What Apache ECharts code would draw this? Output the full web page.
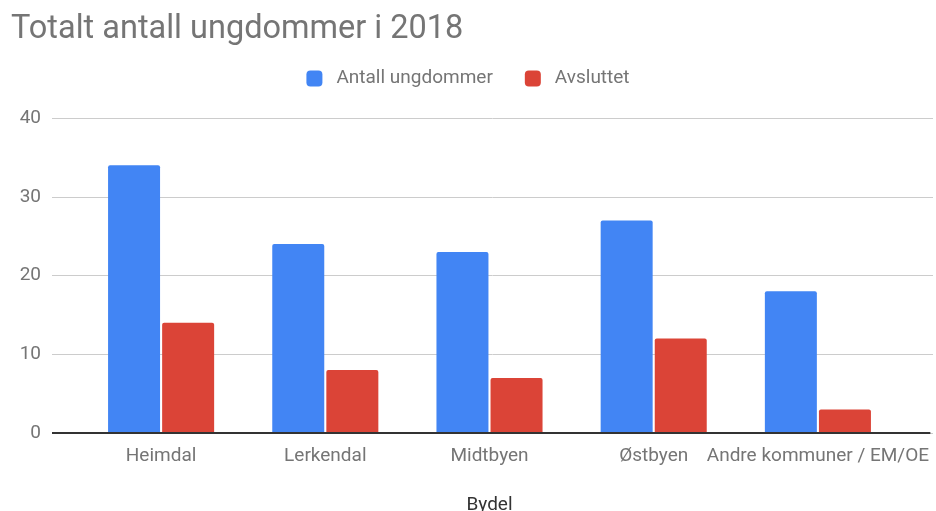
<!DOCTYPE html>
<html>
<head>
<meta charset="utf-8">
<script src="https://cdn.jsdelivr.net/npm/echarts@6/dist/echarts.min.js"></script>
<style>
html, body { margin: 0; padding: 0; background: #fff; }
#chart { width: 936px; height: 511px; }
</style>
</head>
<body>
<div id="chart"></div>
<script>
// kategorier og verdier
var bydeler = ['Heimdal', 'Lerkendal', 'Midtbyen', 'Østbyen', 'Andre kommuner / EM/OE'];
var antallUngdommer = [34, 24, 23, 27, 18];
var avsluttet = [14, 8, 7, 12, 3];
var yTicks = [0, 10, 20, 30, 40];

var chart = echarts.init(document.getElementById('chart'));
var font = 'Roboto, "Noto Sans", sans-serif';

chart.setOption({
    animation: false,
    textStyle: { fontFamily: font },
    title: {
        text: 'Totalt antall ungdommer i 2018',
        left: 6, top: 8,
        textStyle: { fontFamily: font, fontSize: 32.5, fontWeight: 'normal', color: '#757575' }
    },
    legend: {
        top: 64, left: 'center',
        itemWidth: 16, itemHeight: 16, itemGap: 32,
        icon: 'roundRect',
        textStyle: { fontFamily: font, fontSize: 19, color: '#757575', padding: [0, 0, 0, 9] }
    },
    // grid 0: rutenett og y-akse, grid 1: stolpene
    grid: [
        { left: 52, right: 3, top: 118, bottom: 78, outerBoundsMode: 'none' },
        { left: 79, right: 36, top: 118, bottom: 78, outerBoundsMode: 'none' }
    ],
    xAxis: [
        { gridIndex: 0, type: 'value', show: false, min: 0, max: 1 },
        {
            gridIndex: 1, type: 'category', data: bydeler,
            axisTick: { show: false },
            axisLine: { show: false },
            axisLabel: { fontSize: 19, color: '#757575', margin: 14, interval: 0, hideOverlap: false },
            name: 'Bydel', nameLocation: 'middle', nameGap: 63,
            nameTextStyle: { fontSize: 19, color: '#333' }
        }
    ],
    yAxis: [
        {
            gridIndex: 0, type: 'value', min: yTicks[0], max: yTicks[yTicks.length - 1], interval: 10,
            axisLine: { show: false }, axisTick: { show: false },
            axisLabel: { fontSize: 19, color: '#757575', margin: 11 },
            splitLine: { lineStyle: { color: '#cccccc', width: 1 } }
        },
        {
            gridIndex: 1, type: 'value', min: yTicks[0], max: yTicks[yTicks.length - 1],
            show: false, splitLine: { show: false }
        }
    ],
    series: [
        {
            name: 'Antall ungdommer', type: 'bar', xAxisIndex: 1, yAxisIndex: 1,
            data: antallUngdommer, barWidth: 52, barGap: '4%',
            itemStyle: { color: '#4285f4', borderRadius: [2, 2, 0, 0] }
        },
        {
            name: 'Avsluttet', type: 'bar', xAxisIndex: 1, yAxisIndex: 1,
            data: avsluttet, barWidth: 52, barGap: '4%',
            itemStyle: { color: '#db4437', borderRadius: [2, 2, 0, 0] }
        },
        {
            // grunnlinje ved 0
            type: 'line', xAxisIndex: 0, yAxisIndex: 0, data: [], silent: true,
            markLine: {
                symbol: 'none', silent: true, label: { show: false },
                lineStyle: { color: '#333', width: 2, type: 'solid' },
                data: [[{ coord: [0, 0] }, { coord: [0.997, 0] }]]
            }
        }
    ]
});
</script>
</body>
</html>
